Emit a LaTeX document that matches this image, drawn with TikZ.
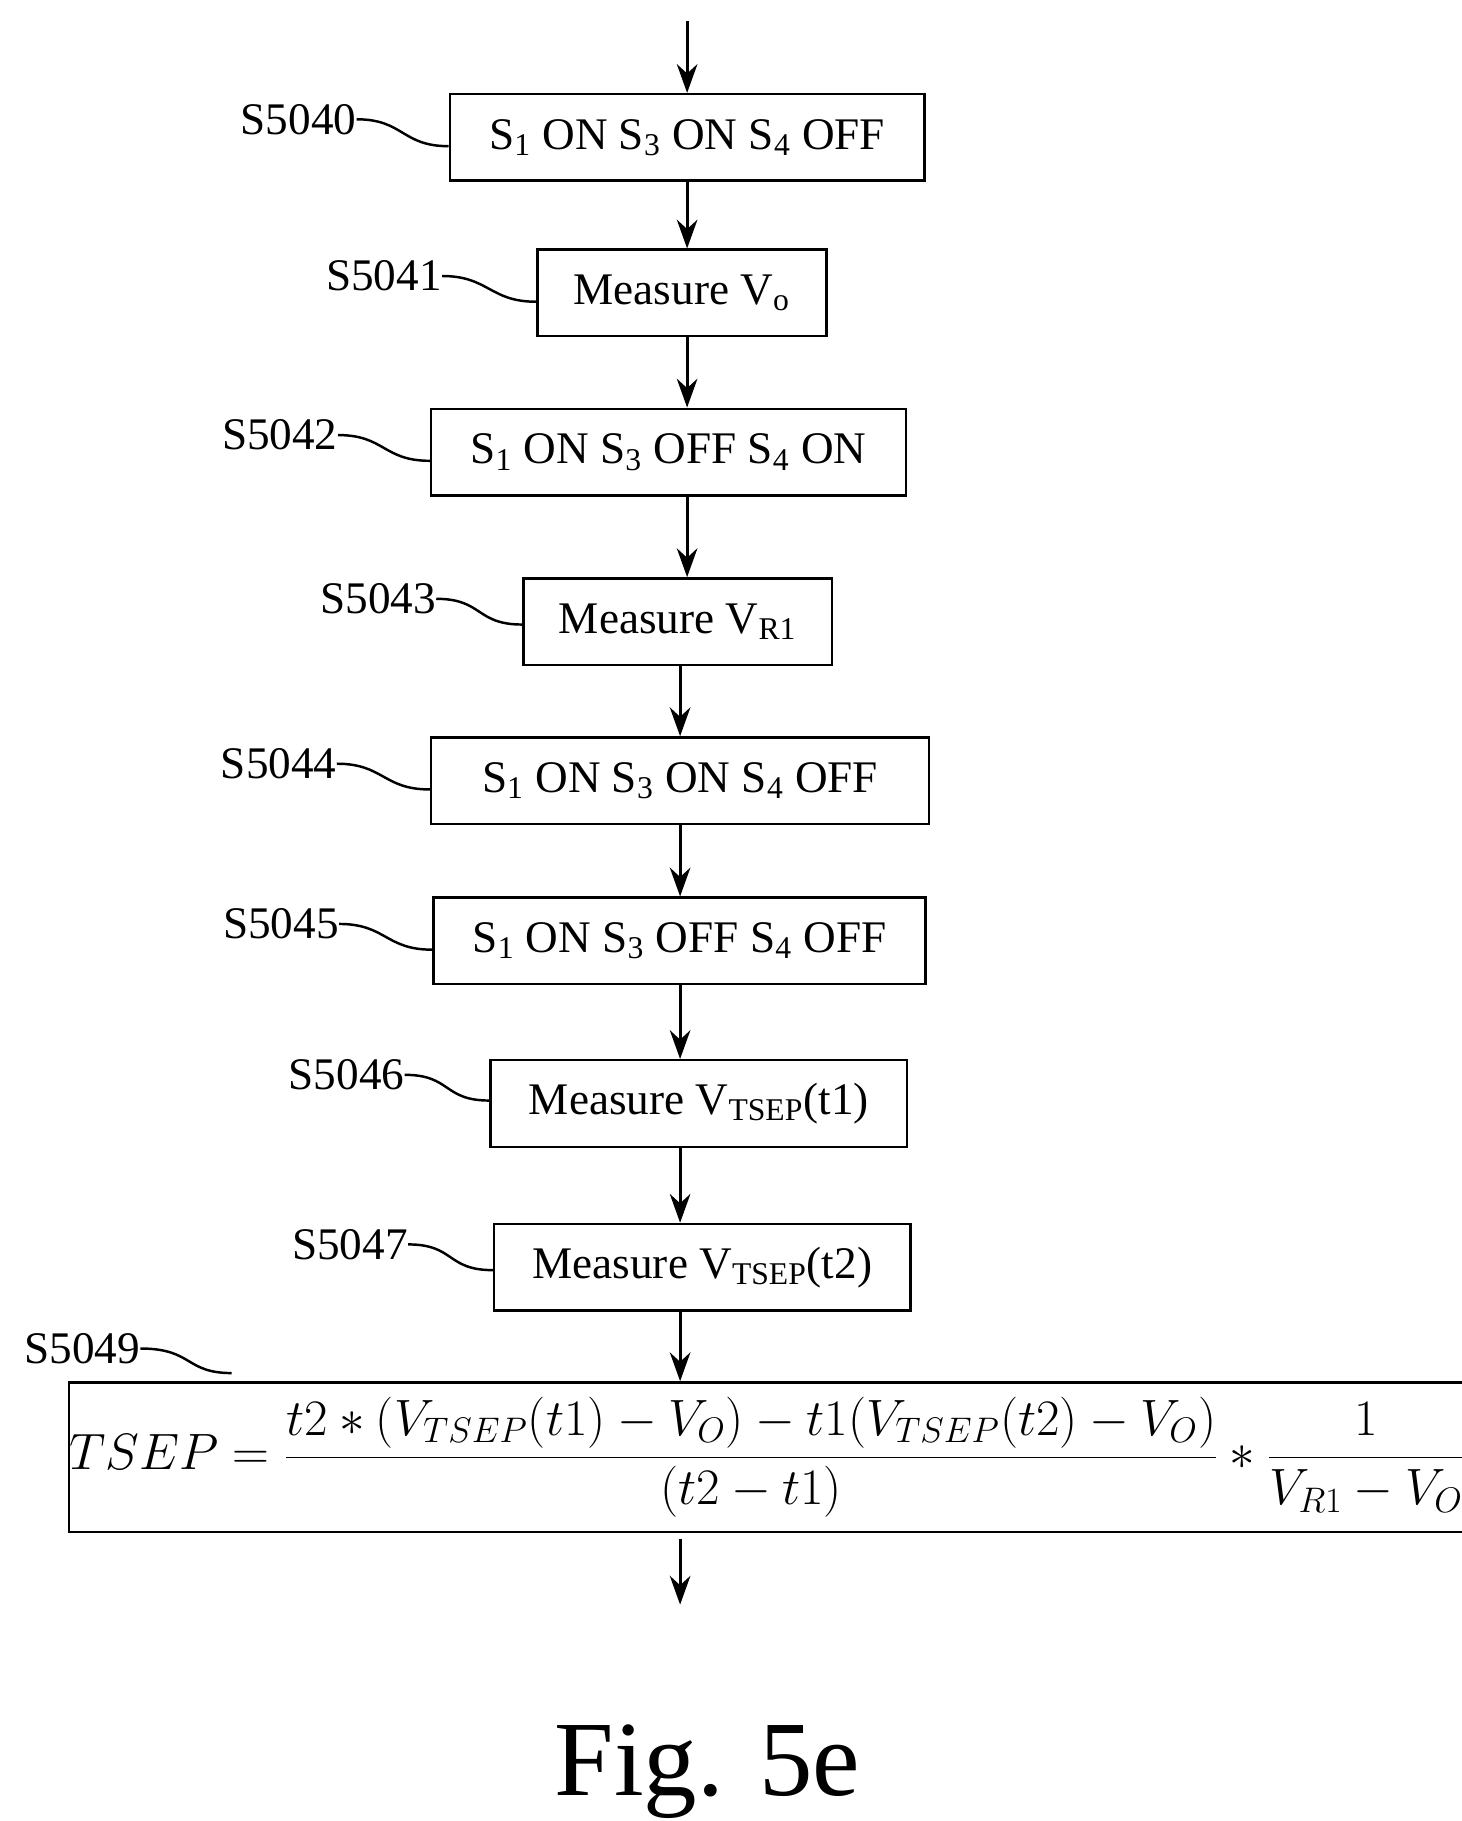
\documentclass[tikz,border=0pt]{standalone}
\usepackage{fontspec}
\setmainfont{Liberation Serif}
\usetikzlibrary{arrows.meta}
\begin{document}
\begin{tikzpicture}[x=0.02cm,y=-0.02cm,
  box/.style={draw,line width=1.2pt,inner sep=0pt,font=\fontsize{22}{26}\selectfont},
  lab/.style={font=\fontsize{22}{26}\selectfont,inner sep=0pt},
  arr/.style={line width=1.4pt,-{Stealth[length=14pt,width=10pt]}},
  sq/.style={line width=1.2pt}]
\useasboundingbox (0,0) rectangle (1250,1557);
\node[box,minimum width=8.12cm,minimum height=1.48cm] (b0) at (587.5,117.5) {S\textsubscript{1} ON S\textsubscript{3} ON S\textsubscript{4} OFF};
\node[box,minimum width=4.94cm,minimum height=1.48cm] (b1) at (583,250.5) {Measure V\textsubscript{o}};
\node[box,minimum width=8.12cm,minimum height=1.48cm] (b2) at (571.5,386.5) {S\textsubscript{1} ON S\textsubscript{3} OFF S\textsubscript{4} ON};
\node[box,minimum width=5.28cm,minimum height=1.48cm] (b3) at (579.5,531.5) {Measure V\textsubscript{R1}};
\node[box,minimum width=8.52cm,minimum height=1.48cm] (b4) at (581.5,667.5) {S\textsubscript{1} ON S\textsubscript{3} ON S\textsubscript{4} OFF};
\node[box,minimum width=8.42cm,minimum height=1.48cm] (b5) at (581,804.5) {S\textsubscript{1} ON S\textsubscript{3} OFF S\textsubscript{4} OFF};
\node[box,minimum width=7.12cm,minimum height=1.48cm] (b6) at (597.5,943.5) {Measure V\textsubscript{TSEP}(t1)};
\node[box,minimum width=7.12cm,minimum height=1.48cm] (b7) at (600.5,1083.5) {Measure V\textsubscript{TSEP}(t2)};
\node[box,minimum width=23.34cm,minimum height=2.56cm,font=\fontsize{26}{30}\selectfont] (b9) at (656,1246) {$\displaystyle TSEP=\frac{t2*(V_{TSEP}(t1)-V_O)-t1(V_{TSEP}(t2)-V_O)}{(t2-t1)}*\frac{1}{V_{R1}-V_O}$};
\coordinate (top) at (587.5,18);
\coordinate (bot) at (581.5,1372);
\draw[arr] (top) -- (b0.north);
\draw[arr] (b0.south) -- (b0.south|-b1.north);
\draw[arr] (b1.south-|b0.south) -- (b0.south|-b2.north);
\draw[arr] (b2.south-|b0.south) -- (b0.south|-b3.north);
\draw[arr] (b3.south-|b4.south) -- (b4.north);
\draw[arr] (b4.south) -- (b4.south|-b5.north);
\draw[arr] (b5.south-|b4.south) -- (b4.south|-b6.north);
\draw[arr] (b6.south-|b4.south) -- (b4.south|-b7.north);
\draw[arr] (b7.south-|b4.south) -- (b4.south|-b9.north);
\draw[arr] ([yshift=-0.1cm]b9.south-|bot) -- (bot);
\node[lab,anchor=east] (l0) at (305,102) {S5040};
\node[lab,anchor=east] (l1) at (378,236) {S5041};
\node[lab,anchor=east] (l2) at (289,372) {S5042};
\node[lab,anchor=east] (l3) at (373,512) {S5043};
\node[lab,anchor=east] (l4) at (288,653) {S5044};
\node[lab,anchor=east] (l5) at (290,790) {S5045};
\node[lab,anchor=east] (l6) at (346,919) {S5046};
\node[lab,anchor=east] (l7) at (349,1064) {S5047};
\node[lab,anchor=east] (l9) at (120,1153) {S5049};
\coordinate (c9) at (198,1174);
\foreach \l/\b/\dy in {l0/b0/23,l1/b1/22,l2/b2/22,l3/b3/22,l4/b4/22,l5/b5/22,l6/b6/22,l7/b7/22}{
  \draw[sq] (\l.east) .. controls +(40,0) and +(-40,0) .. ([yshift=-\dy*0.02cm]\l.east -| \b.west);
}
\draw[sq] (l9.east) .. controls +(45,0) and +(-40,0) .. (c9);
\node[font=\fontsize{52}{60}\selectfont,inner sep=0pt] (fig) at (605,1515) {Fig. 5e};
\end{tikzpicture}
\end{document}
